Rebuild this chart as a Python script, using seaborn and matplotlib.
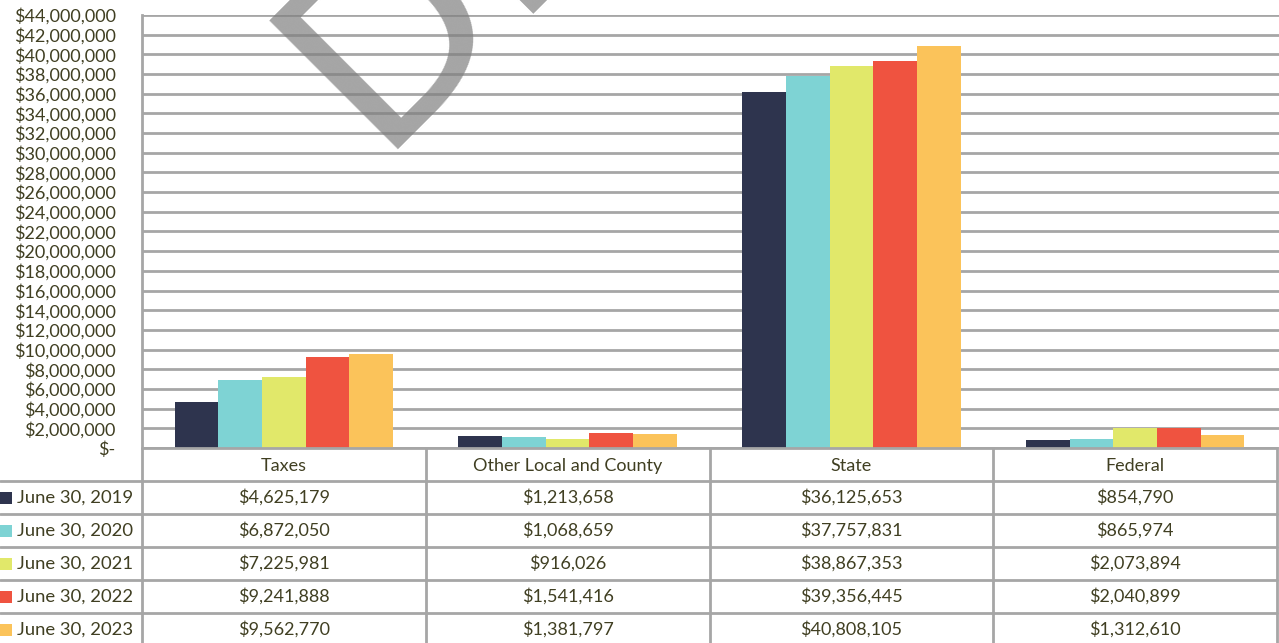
"""Revenue by source, five fiscal years: bar chart with data table."""

import matplotlib.pyplot as plt
import matplotlib.ticker as mticker
import pandas as pd
import seaborn as sns

categories = ["Taxes", "Other Local and County", "State", "Federal"]
years = ["June 30, 2019", "June 30, 2020", "June 30, 2021", "June 30, 2022", "June 30, 2023"]

taxes = [4625179, 6872050, 7225981, 9241888, 9562770]
other_local = [1213658, 1068659, 916026, 1541416, 1381797]
state = [36125653, 37757831, 38867353, 39356445, 40808105]
federal = [854790, 865974, 2073894, 2040899, 1312610]

colors = ["#2E344E", "#7ED3D4", "#E1E86A", "#EF5340", "#FBC35A"]

TEXT = "#403F22"
LINE = "#A6A6A6"

W, H = 1279, 643
left, right, top, base = 142, 1277, 15, 448
row_h = 33

series = dict(zip(categories, [taxes, other_local, state, federal]))
rows = []
for cat, vals in series.items():
    for yr, v in zip(years, vals):
        rows.append({"category": cat, "year": yr, "value": v})
df = pd.DataFrame(rows)

sns.set_theme(style="white")
plt.rcParams["font.family"] = ["Lato", "DejaVu Sans"]

fig = plt.figure(figsize=(W / 100, H / 100), dpi=100)

# zone du graphique
ax = fig.add_axes([left / W, (H - base) / H, (W - left) / W, (base - top) / H])
sns.barplot(
    data=df, x="category", y="value", hue="year", order=categories,
    hue_order=years, palette=colors, width=0.77, gap=0, saturation=1,
    linewidth=0, edgecolor="none", legend=False, ax=ax,
)
ax.set_xlim(-0.5, len(categories) - 0.5 + (W - right) / ((right - left) / len(categories)))
ax.set_ylim(0, 44_000_000)
ax.yaxis.set_major_locator(mticker.MultipleLocator(2_000_000))
ax.yaxis.set_major_formatter(
    mticker.FuncFormatter(lambda v, _: "$-" if v == 0 else f"${v:,.0f}")
)
ax.grid(axis="y", color=LINE, linewidth=2)
ax.set_axisbelow(True)
ax.set_xlabel("")
ax.set_ylabel("")
ax.set_xticks([])
ax.tick_params(axis="y", length=0, pad=19, labelsize=13, labelcolor=TEXT)
for side in ["top", "right", "bottom"]:
    ax.spines[side].set_visible(False)
ax.spines["left"].set_color(LINE)
ax.spines["left"].set_linewidth(2)

# tableau de données
tab = fig.add_axes([0, 0, 1, 1], zorder=3)
tab.set_xlim(0, W)
tab.set_ylim(H, 0)
tab.axis("off")
tab.patch.set_alpha(0)

col_w = (right - left) / len(categories)
col_edges = [left + i * col_w for i in range(len(categories) + 1)]
tab.plot([left, right], [base, base], color=LINE, lw=2)
for i in range(1, len(years) + 1):
    y = base + i * row_h
    tab.plot([0, right], [y, y], color=LINE, lw=2)
for x in col_edges:
    tab.plot([x, x], [base, H], color=LINE, lw=2)

for j, cat in enumerate(categories):
    cx = col_edges[j] + col_w / 2
    tab.text(cx, base + row_h / 2 + 1.5, cat, ha="center", va="center", fontsize=13, color=TEXT)
    for i, v in enumerate(series[cat]):
        tab.text(cx, base + (i + 1.5) * row_h, f"${v:,.0f}", ha="center", va="center",
                 fontsize=13, color=TEXT)

for i, (yr, c) in enumerate(zip(years, colors)):
    cy = base + (i + 1.5) * row_h
    tab.add_patch(plt.Rectangle((0, cy - 6), 12, 12, color=c, lw=0))
    tab.text(17, cy, yr, ha="left", va="center", fontsize=13.3, color=TEXT)

# filigrane
fig.text(374 / W, (H - 150) / H, "DRAFT", rotation=45, rotation_mode="anchor",
         ha="left", va="baseline", fontsize=180, color="#7F7F7F", alpha=0.7,
         family="DejaVu Sans", zorder=5)

fig.savefig("out.png", dpi=100)
